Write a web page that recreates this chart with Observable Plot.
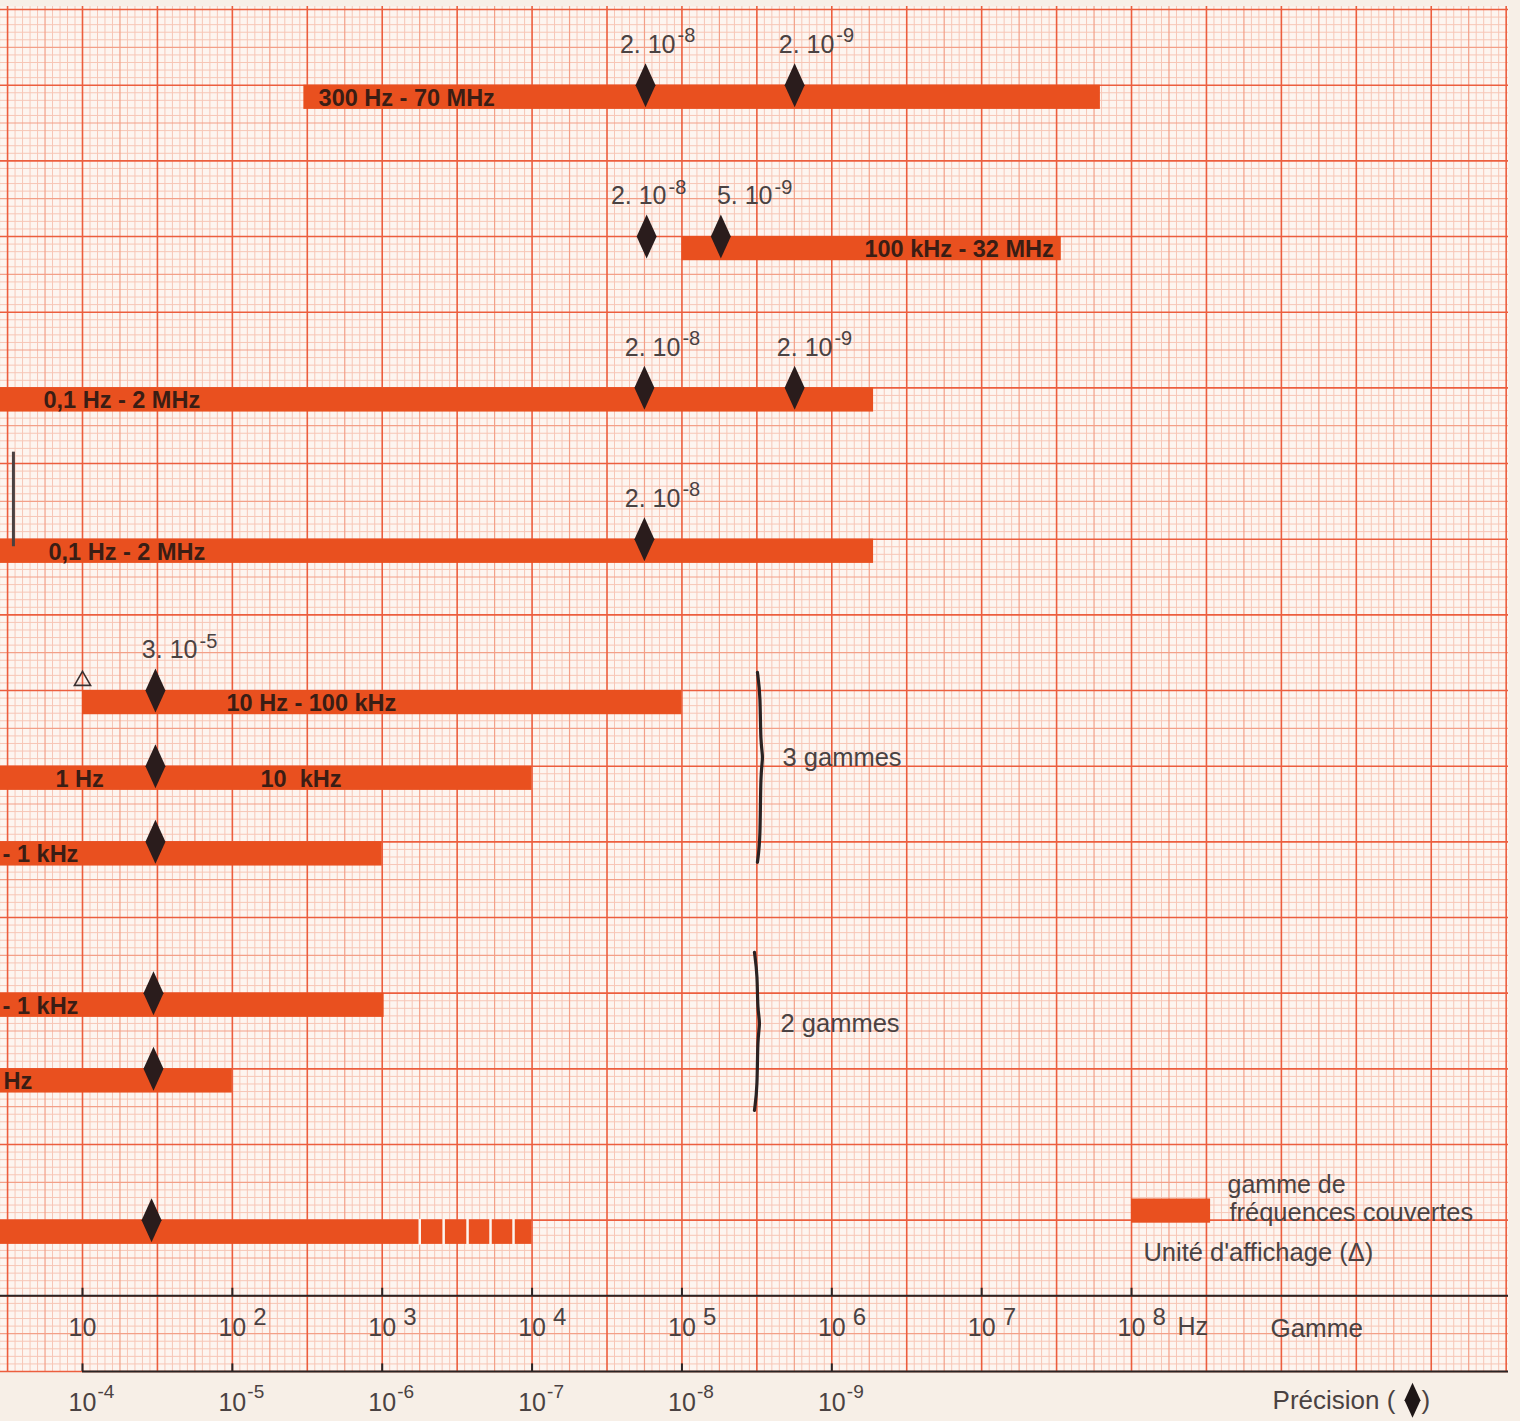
<!DOCTYPE html>
<html>
<head>
<meta charset="utf-8">
<script src="https://cdn.jsdelivr.net/npm/d3@7"></script>
<script src="https://cdn.jsdelivr.net/npm/@observablehq/plot@0.6"></script>
<style>
html, body { margin: 0; padding: 0; background: #f7efe7; }
#chart svg { display: block; }
</style>
</head>
<body>
<div id="chart"></div>
<script>
// ---------------- DATA ----------------
// Frequency ranges covered (Hz); row = paper row (major grid line) from the top
const rangeRow   = [0, 2, 4, 6, 8, 9, 10, 12, 13, 15];
const rangeStart = [300, 1e5, 0.1, 0.1, 10, 1, 1, 1, 1, 1];
const rangeEnd   = [6.2e7, 3.4e7, 1.9e6, 1.9e6, 1e5, 1e4, 1e3, 1.03e3, 100, 1e4];
// white cuts in the dashed tail of the last range (Hz)
const dashCuts = [1780, 2570, 3710, 5280, 7520];
const dashRow = 15;

// Labels written inside the bars (x = where the text starts, Hz)
const labelRow  = [0, 2, 4, 6, 8, 9, 9, 10, 12, 13];
const labelText = ["300 Hz - 70 MHz", "100 kHz - 32 MHz", "0,1 Hz - 2 MHz", "0,1 Hz - 2 MHz",
                   "10 Hz - 100 kHz", "1 Hz", "10\u00a0 kHz", "- 1 kHz", "- 1 kHz", "Hz"];
const labelHz   = [376, 1.65e6, 5.49, 5.93, 91.4, 6.6, 154, 2.93, 2.93, 2.97];

// Precision markers (diamonds)
const markRow       = [0, 0, 2, 2, 4, 4, 6, 8, 9, 10, 12, 13, 15];
const markPrecision = [1.75e-8, 1.77e-9, 1.72e-8, 5.5e-9, 1.78e-8, 1.77e-9, 1.78e-8,
                       3.26e-5, 3.26e-5, 3.26e-5, 3.36e-5, 3.36e-5, 3.46e-5];

// Precision annotations above the diamonds (x = end of "10", Hz)
const noteRow      = [0, 0, 2, 2, 4, 4, 6, 8];
const noteMantissa = ["2.", "2.", "2.", "5.", "2.", "2.", "2.", "3."];
const noteExponent = ["-8", "-9", "-8", "-9", "-8", "-9", "-8", "-5"];
const noteHz       = [9.06e4, 1.04e6, 7.89e4, 4.02e5, 9.77e4, 1.01e6, 9.77e4, 58.5];

// Axes
const freqTicks = [1e1, 1e2, 1e3, 1e4, 1e5, 1e6, 1e7, 1e8];
const freqExp   = ["", "2", "3", "4", "5", "6", "7", "8"];
const precTicks = [1e-4, 1e-5, 1e-6, 1e-7, 1e-8, 1e-9];
const precExp   = ["-4", "-5", "-6", "-7", "-8", "-9"];

// Braces grouping ranges
const braceLabel  = ["3 gammes", "2 gammes"];
const braceHz     = [3.34e5, 3.19e5];
const braceTop    = [7.76, 11.46];
const braceMid    = [8.885, 12.40];
const braceBottom = [10.27, 13.55];
const braceTextHz = [4.69e5, 4.55e5];

// ---------------- CHART ----------------
const W = 1520, H = 1421, ML = 0, MR = 12, MT = 6, MB = 50;
const X0 = Math.pow(10, 1 - 82 / 149.86);
const X1 = Math.pow(10, 1 + 1426 / 149.86);
const pxPerDecade = (W - ML - MR) / (Math.log10(X1) - Math.log10(X0));
const shift = (hz, px) => hz * Math.pow(10, px / pxPerDecade);
const precToX = p => 1e-3 / p;   // precision axis: 1e-4 under 10 Hz, one decade per decade

const barColor = "#e9501f";
const inkBar = "#3a1d14";
const ink = "#4a4242";
const axisInk = "#2a2424";
const font = "Liberation Sans, Arial, Helvetica, sans-serif";

const tallDiamond = {
  draw(ctx, size) {
    const r = Math.sqrt(size / Math.PI);
    ctx.moveTo(0, -2.2 * r);
    ctx.lineTo(r, 0);
    ctx.lineTo(0, 2.2 * r);
    ctx.lineTo(-r, 0);
    ctx.closePath();
  }
};

// paper grid
const gx = d3.range(-10, 191).map(k => ({x: Math.pow(10, 1 + k / 20), k}));
const gy = d3.range(-10, 171).map(j => ({y: j / 10, j}));

const idx = n => d3.range(n);
const bracePts = braceLabel.flatMap((b, i) =>
  [[-3, braceTop[i]], [0, braceTop[i] + 0.3], [0, braceMid[i] - 0.18], [3, braceMid[i]],
   [0, braceMid[i] + 0.18], [0, braceBottom[i] - 0.3], [-3, braceBottom[i]]]
  .map(([dx, y]) => ({b: i, x: shift(braceHz[i], dx), y})));

const chart = Plot.plot({
  width: W, height: H,
  marginLeft: ML, marginRight: MR, marginTop: MT, marginBottom: MB,
  x: {type: "log", domain: [X0, X1], axis: null},
  y: {domain: [-1.04, 17], reverse: true, axis: null},
  style: {background: "#f7efe7", fontFamily: font, overflow: "visible"},
  marks: [
    Plot.frame({fill: "#fdf5f0", stroke: null}),
    // fine, medium and major lines of the graph paper
    Plot.ruleX(gx.filter(d => d.k % 5 !== 0), {x: "x", stroke: "#f7c6b6", strokeWidth: 1}),
    Plot.ruleY(gy.filter(d => d.j % 5 !== 0), {y: "y", stroke: "#f7c6b6", strokeWidth: 1}),
    Plot.ruleX(gx.filter(d => d.k % 5 === 0 && d.k % 10 !== 0), {x: "x", stroke: "#f3a088", strokeWidth: 1.2}),
    Plot.ruleY(gy.filter(d => d.j % 5 === 0 && d.j % 10 !== 0), {y: "y", stroke: "#f3a088", strokeWidth: 1.2}),
    Plot.ruleX(gx.filter(d => d.k % 10 === 0), {x: "x", stroke: "#ec5e3e", strokeWidth: 1.6}),
    Plot.ruleY(gy.filter(d => d.j % 10 === 0), {y: "y", stroke: "#ec5e3e", strokeWidth: 1.6}),

    // frequency ranges
    Plot.rect(idx(rangeRow.length), {
      x1: i => rangeStart[i], x2: i => rangeEnd[i],
      y1: i => rangeRow[i], y2: i => rangeRow[i] + 0.32,
      fill: barColor, clip: true
    }),
    Plot.ruleX(dashCuts, {x: d => d, y1: dashRow - 0.01, y2: dashRow + 0.33, stroke: "#fdf5f0", strokeWidth: 2.5}),
    Plot.text(idx(labelRow.length), {
      x: i => labelHz[i], y: i => labelRow[i] + 0.16, text: i => labelText[i],
      textAnchor: "start", dy: 1, fontSize: 23.5, fontWeight: "bold", fill: inkBar
    }),

    // stray pointer on the left and display unit triangle
    Plot.ruleX([3.46], {x: d => d, y1: 4.85, y2: 6.1, stroke: "#4a4040", strokeWidth: 3}),
    Plot.dot([10], {x: d => d, y: 7.87, r: 6, symbol: "triangle", stroke: "#3a3030", strokeWidth: 1.6, fill: "none"}),

    // precision diamonds
    Plot.dot(idx(markRow.length), {
      x: i => precToX(markPrecision[i]), y: i => markRow[i],
      r: 10, symbol: tallDiamond, fill: "#2a1c1c", stroke: null
    }),
    Plot.text(idx(noteRow.length), {
      x: i => noteHz[i], y: i => noteRow[i] - 0.53, text: i => noteMantissa[i] + " 10",
      textAnchor: "end", fontSize: 25, fill: ink
    }),
    Plot.text(idx(noteRow.length), {
      x: i => noteHz[i], y: i => noteRow[i] - 0.53, text: i => noteExponent[i],
      textAnchor: "start", dx: 2, dy: -9, fontSize: 20, fill: ink
    }),

    // braces
    Plot.line(bracePts, {x: "x", y: "y", z: "b", curve: "basis", stroke: "#2a2222", strokeWidth: 3.2}),
    Plot.text(idx(braceLabel.length), {
      x: i => braceTextHz[i], y: i => braceMid[i], text: i => braceLabel[i],
      textAnchor: "start", fontSize: 25.5, fill: ink
    }),

    // legend
    Plot.rect([0], {x1: 1e8, x2: 3.37e8, y1: 14.72, y2: 15.04, fill: barColor}),
    Plot.text(["gamme de"], {x: 4.37e8, y: 14.53, text: d => d, textAnchor: "start", fontSize: 25, fill: ink}),
    Plot.text(["fréquences couvertes"], {x: 4.5e8, y: 14.9, text: d => d, textAnchor: "start", fontSize: 25.5, fill: ink}),
    Plot.text(["Unité d'affichage (Δ)"], {x: 1.2e8, y: 15.43, text: d => d, textAnchor: "start", fontSize: 25.5, fill: ink}),

    // frequency axis ("Gamme")
    Plot.ruleY([16], {y: d => d, stroke: axisInk, strokeWidth: 2}),
    Plot.ruleX(freqTicks, {x: d => d, y1: 15.9, y2: 16, stroke: axisInk, strokeWidth: 2}),
    Plot.text(freqTicks, {x: d => d, y: 16.43, text: () => "10", fontSize: 25, fill: ink}),
    Plot.text(freqTicks, {x: d => d, y: 16.43, text: (d, i) => freqExp[i], textAnchor: "start", dx: 21, dy: -11, fontSize: 24, fill: ink}),
    Plot.text([1e8], {x: d => d, y: 16.43, text: () => "Hz", textAnchor: "start", dx: 46, dy: -1, fontSize: 25, fill: ink}),
    Plot.text(["Gamme"], {x: 8.45e8, y: 16.43, text: d => d, textAnchor: "start", fontSize: 26, fill: ink}),

    // precision axis
    Plot.ruleY([17], {y: d => d, x1: 10, x2: X1, stroke: axisInk, strokeWidth: 2.2}),
    Plot.ruleX(precTicks, {x: precToX, y1: 16.9, y2: 17, stroke: axisInk, strokeWidth: 2}),
    Plot.text(precTicks, {x: precToX, y: 17.41, text: () => "10", fontSize: 25, fill: ink}),
    Plot.text(precTicks, {x: precToX, y: 17.41, text: (d, i) => precExp[i], textAnchor: "start", dx: 15, dy: -11, fontSize: 19, fill: ink}),
    Plot.text(["Précision ("], {x: 8.73e8, y: 17.38, text: d => d, textAnchor: "start", fontSize: 26, fill: ink}),
    Plot.dot([7.5e9], {x: d => d, y: 17.38, r: 8, symbol: tallDiamond, fill: "#1e1616", stroke: null}),
    Plot.text([")"], {x: 8.6e9, y: 17.38, text: d => d, textAnchor: "start", fontSize: 26, fill: ink})
  ]
});
document.getElementById("chart").appendChild(chart);
</script>
</body>
</html>
